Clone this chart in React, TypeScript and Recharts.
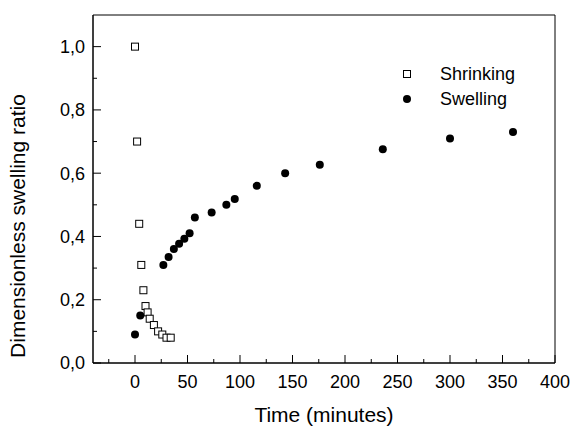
import React from 'react';
import { ScatterChart, Scatter, XAxis, YAxis, ReferenceArea } from 'recharts';

// Shrinking (open squares)
const shrinkTime = [0, 2, 4, 6, 8, 10, 12, 14, 18, 22, 26, 30, 34];
const shrinkRatio = [1.0, 0.7, 0.44, 0.31, 0.23, 0.18, 0.16, 0.14, 0.12, 0.1, 0.09, 0.08, 0.08];

// Swelling (filled circles)
const swellTime = [0, 5, 27, 32, 37, 42, 47, 52, 57, 73, 87, 95, 116, 143, 176, 236, 300, 360];
const swellRatio = [0.09, 0.15, 0.31, 0.335, 0.36, 0.377, 0.393, 0.41, 0.46, 0.476, 0.5, 0.518, 0.56, 0.6, 0.627, 0.676, 0.71, 0.73];

const xTicks = [-25, 0, 25, 50, 75, 100, 125, 150, 175, 200, 225, 250, 275, 300, 325, 350, 375, 400];
const yTicks = [0, 0.1, 0.2, 0.3, 0.4, 0.5, 0.6, 0.7, 0.8, 0.9, 1.0];

const shrinkData = shrinkTime.map((t, i) => ({ t, r: shrinkRatio[i] }));
const swellData = swellTime.map((t, i) => ({ t, r: swellRatio[i] }));

const FONT = '"Liberation Sans", Arial, sans-serif';

const XTick = (props: any) => {
  const { x, y, payload } = props;
  const major = payload.value % 50 === 0;
  return (
    <g>
      <line x1={x} y1={y} x2={x} y2={y - (major ? 8 : 4)} stroke="#000" strokeWidth={1} />
      {major && (
        <text x={x} y={y + 25} textAnchor="middle" fontSize={18} fontFamily={FONT} fill="#000">
          {payload.value}
        </text>
      )}
    </g>
  );
};

const YTick = (props: any) => {
  const { x, y, payload } = props;
  const v = payload.value;
  const major = Math.round(v * 10) % 2 === 0;
  return (
    <g>
      <line x1={x} y1={y} x2={x + (major ? 8 : 4)} y2={y} stroke="#000" strokeWidth={1} />
      {major && (
        <text x={x - 8} y={y} dy="0.36em" textAnchor="end" fontSize={18} fontFamily={FONT} fill="#000">
          {v.toFixed(1).replace('.', ',')}
        </text>
      )}
    </g>
  );
};

const Square = (props: any) => (
  <rect x={props.cx - 3.5} y={props.cy - 3.5} width={7} height={7} fill="#fff" stroke="#000" strokeWidth={1} />
);

const Dot = (props: any) => <circle cx={props.cx} cy={props.cy} r={4} fill="#000" />;

export default function App() {
  return (
    <div style={{ position: 'absolute', left: 0, top: 0, width: 574, height: 428, background: '#fff' }}>
      <ScatterChart width={574} height={428} margin={{ top: 15, right: 19, left: 0, bottom: 0 }}>
        <XAxis
          type="number"
          dataKey="t"
          domain={[-40, 400]}
          ticks={xTicks}
          interval={0}
          allowDataOverflow
          height={65}
          tickSize={0}
          tickMargin={0}
          tickLine={false}
          axisLine={{ stroke: '#000' }}
          tick={<XTick />}
          label={{
            value: 'Time (minutes)',
            position: 'insideBottom',
            offset: 6,
            fontSize: 21,
            fontFamily: FONT,
            fill: '#000',
          }}
        />
        <YAxis
          type="number"
          dataKey="r"
          domain={[0, 1.1]}
          ticks={yTicks}
          interval={0}
          allowDataOverflow
          width={93}
          tickSize={0}
          tickMargin={0}
          tickLine={false}
          axisLine={{ stroke: '#000' }}
          tick={<YTick />}
          label={{
            value: 'Dimensionless swelling ratio',
            angle: -90,
            position: 'insideLeft',
            offset: 18,
            dy: 37,
            fontSize: 21,
            fontFamily: FONT,
            fill: '#000',
            style: { textAnchor: 'middle' },
          }}
        />
        <ReferenceArea x1={-40} x2={400} y1={0} y2={1.1} fill="none" stroke="#000" strokeWidth={1} ifOverflow="visible" />
        <Scatter name="Shrinking" data={shrinkData} shape={<Square />} isAnimationActive={false} />
        <Scatter name="Swelling" data={swellData} shape={<Dot />} isAnimationActive={false} />
      </ScatterChart>
      <svg
        width={150}
        height={50}
        style={{ position: 'absolute', left: 400, top: 60, fontFamily: FONT, overflow: 'visible' }}
      >
        <rect x={3.5} y={10.5} width={7} height={7} fill="#fff" stroke="#000" />
        <text x={40} y={20} fontSize={18} fill="#000">Shrinking</text>
        <circle cx={7} cy={39} r={4} fill="#000" />
        <text x={40} y={45} fontSize={18} fill="#000">Swelling</text>
      </svg>
    </div>
  );
}
